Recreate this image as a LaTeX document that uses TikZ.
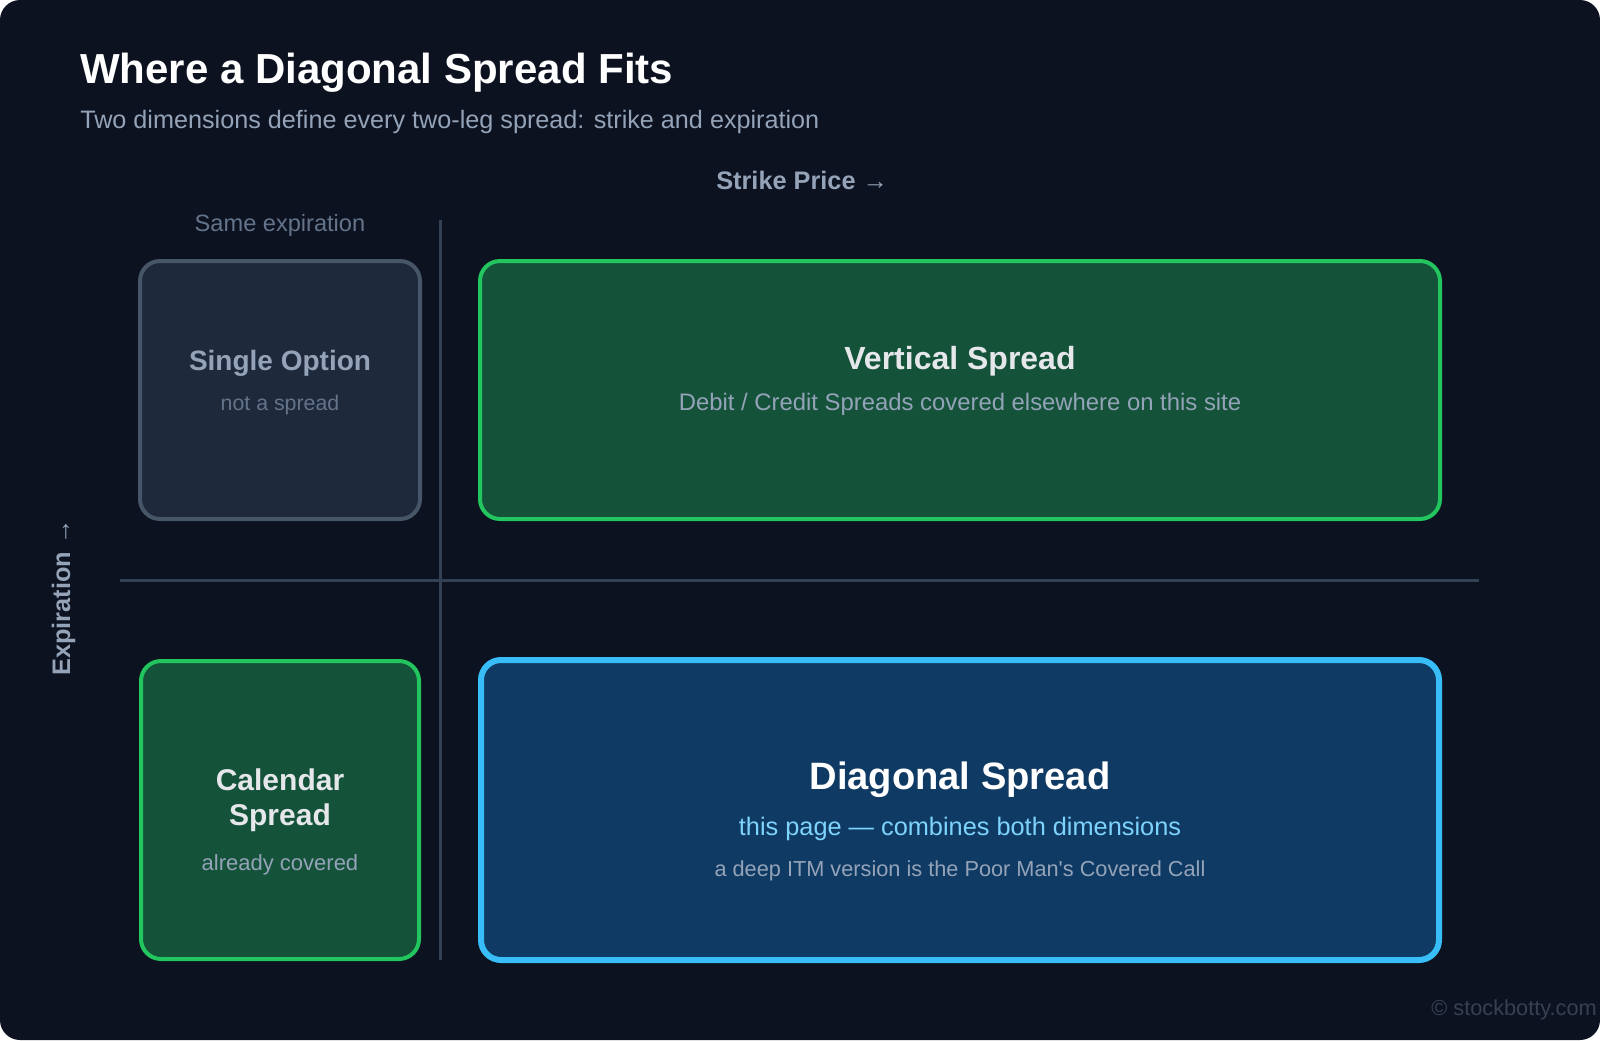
\documentclass[tikz,border=0pt]{standalone}
\usepackage{fontspec}
\setmainfont{Liberation Sans}
\usetikzlibrary{positioning}

\definecolor{canvas}{HTML}{0C1220}
\definecolor{axisline}{HTML}{334155}
\definecolor{slatefill}{HTML}{1E293B}
\definecolor{slateborder}{HTML}{475569}
\definecolor{slatetext}{HTML}{94A3B8}
\definecolor{dimtext}{HTML}{64748B}
\definecolor{greenfill}{HTML}{14523A}
\definecolor{greenborder}{HTML}{22C55E}
\definecolor{bluefill}{HTML}{0F3A64}
\definecolor{blueborder}{HTML}{38BDF8}
\definecolor{bluetext}{HTML}{7DD3FC}
\definecolor{lighttext}{HTML}{E5E7EB}
\definecolor{marktext}{HTML}{374151}

\begin{document}
\begin{tikzpicture}[
        x=0.75pt, y=-0.75pt,
        heading/.style={anchor=base west, inner sep=0pt, text=white, font=\fontsize{31.5}{38}\selectfont\bfseries},
        subheading/.style={anchor=base west, inner sep=0pt, text=slatetext, font=\fontsize{18.9}{23}\selectfont},
        axislabel/.style={inner sep=0pt, text=slatetext, font=\fontsize{19}{23}\selectfont\bfseries},
        axis/.style={draw=axisline, line width=2.25pt},
        cell/.style={rectangle, rounded corners=15pt, inner sep=0pt},
        single_box/.style={cell, draw=slateborder, fill=slatefill, line width=3pt, minimum width=210pt, minimum height=193.5pt},
        green_box/.style={cell, draw=greenborder, fill=greenfill, line width=3pt},
        blue_box/.style={cell, draw=blueborder, fill=bluefill, line width=4.5pt, minimum width=718.5pt, minimum height=225pt},
        boxtitle/.style={anchor=base, inner sep=0pt, align=center},
        boxnote/.style={anchor=base, inner sep=0pt}
    ]

        % Canvas
        \fill[white] (0,0) rectangle (1600,1040);
        \fill[canvas, rounded corners=15pt] (0,0) rectangle (1600,1040);
        \useasboundingbox (0,0) rectangle (1600,1040);

        % Title
        \node[heading] (title) at (80,83) {Where a Diagonal Spread Fits};
        \node[subheading] (subtitle) at (80,128) {Two dimensions define every two-leg spread: strike and expiration};

        % Axes
        \node[axislabel, anchor=base west] (strike) at (716,189) {Strike Price →};
        \node[axislabel, rotate=90, anchor=base west] (expiry) at (70,676) {Expiration →};
        \node[boxnote, text=dimtext, font=\fontsize{17.7}{21}\selectfont] (same) at (280,231) {Same expiration};
        \coordinate (vtop) at (440,220);
        \coordinate (vbottom) at (440,960);
        \coordinate (hleft) at (120,580);
        \coordinate (hright) at (1479,580);
        \draw[axis] (vtop) -- (vbottom);
        \draw[axis] (hleft) -- (hright);

        % Single Option
        \node[single_box] (single) at (280,390) {};
        \node[boxtitle, text=slatetext, font=\fontsize{21}{25}\selectfont\bfseries] (single_title) at (280,370) {Single Option};
        \node[boxnote, text=dimtext, font=\fontsize{16}{19}\selectfont] (single_note) at (280,410) {not a spread};

        % Vertical Spread
        \node[green_box, minimum width=720pt, minimum height=193.5pt] (vertical) at (960,390) {};
        \node[boxtitle, text=lighttext, font=\fontsize{24}{29}\selectfont\bfseries] (vertical_title) at (960,369) {Vertical Spread};
        \node[boxnote, text=slatetext, font=\fontsize{17.9}{22}\selectfont] (vertical_note) at (960,410) {Debit / Credit Spreads covered elsewhere on this site};

        % Calendar Spread
        \node[green_box, minimum width=208.5pt, minimum height=223.5pt] (calendar) at (280,810) {};
        \node[boxtitle, text=lighttext, font=\fontsize{22.5}{26.25}\selectfont\bfseries] (calendar_title) at (280,825) {Calendar\\Spread};
        \node[boxnote, text=slatetext, font=\fontsize{16.5}{20}\selectfont] (calendar_note) at (280,870) {already covered};

        % Diagonal Spread
        \node[blue_box] (diagonal) at (960,810) {};
        \node[boxtitle, text=white, font=\fontsize{28.6}{34}\selectfont\bfseries] (diagonal_title) at (960,789) {Diagonal Spread};
        \node[boxnote, text=bluetext, font=\fontsize{19}{23}\selectfont] (diagonal_note) at (960,835) {this page — combines both dimensions};
        \node[boxnote, text=slatetext, font=\fontsize{16.3}{20}\selectfont] (diagonal_pmcc) at (960,876) {a deep ITM version is the Poor Man\textquotesingle s Covered Call};

        % Footer
        \node[anchor=base east, inner sep=0pt, text=marktext, font=\fontsize{16.3}{20}\selectfont] (mark) at (1597,1015) {© stockbotty.com};

    \end{tikzpicture}
\end{document}
